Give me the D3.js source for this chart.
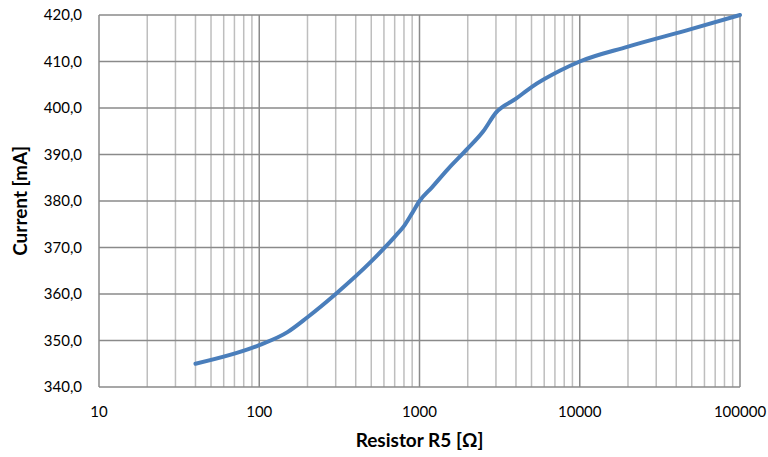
<!DOCTYPE html>
<html>
<head>
<meta charset="utf-8">
<script src="https://cdn.jsdelivr.net/npm/d3@7"></script>
<style>
  body { margin: 0; background: #fff; }
  text { font-family: Lato, "Open Sans", sans-serif; fill: #000; }
</style>
</head>
<body>
<div id="chart"></div>
<script>
// Resistor values [Ohm] and measured current [mA]
const resistance = [40, 100, 150, 200, 300, 500, 600, 700, 800, 900, 1000, 1200, 1500, 2000, 2500, 3000, 4000, 5000, 7500, 10000, 20000, 50000, 100000];
const current = [345, 349, 351.8, 355, 360, 367, 369.8, 372.3, 374.6, 377.4, 380, 383, 386.8, 391.3, 395, 399, 402, 404.5, 408, 410, 413.2, 417, 420];
const xTicks = [10, 100, 1000, 10000, 100000];
const yTicks = [340, 350, 360, 370, 380, 390, 400, 410, 420];

const width = 768, height = 457;
const margin = { top: 15, right: 28, bottom: 70, left: 99 };

const svg = d3.select("#chart").append("svg")
    .attr("width", width)
    .attr("height", height);

const x = d3.scaleLog().domain([10, 100000]).range([margin.left, width - margin.right]);
const y = d3.scaleLinear().domain([340, 420]).range([height - margin.bottom, margin.top]);

// minor vertical grid (2..9 in each decade)
const minor = [];
for (let d = 10; d < 100000; d *= 10) {
    for (let k = 2; k <= 9; k++) minor.push(d * k);
}
svg.append("g").selectAll("line")
    .data(minor)
    .join("line")
    .attr("x1", d => x(d)).attr("x2", d => x(d))
    .attr("y1", y(340)).attr("y2", y(420))
    .attr("stroke", "#bebebe")
    .attr("stroke-width", 1.5);

// major grid
svg.append("g").selectAll("line")
    .data(xTicks)
    .join("line")
    .attr("x1", d => x(d)).attr("x2", d => x(d))
    .attr("y1", y(340)).attr("y2", y(420))
    .attr("stroke", "#8a8a8a")
    .attr("stroke-width", 1.5);

svg.append("g").selectAll("line")
    .data(yTicks)
    .join("line")
    .attr("x1", x(10)).attr("x2", x(100000))
    .attr("y1", d => y(d)).attr("y2", d => y(d))
    .attr("stroke", "#8a8a8a")
    .attr("stroke-width", 1.5);

// y tick labels
svg.append("g").selectAll("text")
    .data(yTicks)
    .join("text")
    .attr("x", x(10) - 17)
    .attr("y", d => y(d))
    .attr("dy", "0.35em")
    .attr("text-anchor", "end")
    .style("font-size", "15px")
    .text(d => d3.format(".1f")(d).replace(".", ","));

// x tick labels
svg.append("g").selectAll("text")
    .data(xTicks)
    .join("text")
    .attr("x", d => x(d))
    .attr("y", y(340) + 30)
    .attr("text-anchor", "middle")
    .style("font-size", "15px")
    .text(d => d);

// axis titles
svg.append("text")
    .attr("x", (x(10) + x(100000)) / 2)
    .attr("y", 447)
    .attr("text-anchor", "middle")
    .style("font-size", "19px")
    .style("font-weight", "bold")
    .text("Resistor R5 [Ω]");

svg.append("text")
    .attr("transform", `translate(27,${(y(340) + y(420)) / 2}) rotate(-90)`)
    .attr("text-anchor", "middle")
    .style("font-size", "19px")
    .style("font-weight", "bold")
    .text("Current [mA]");

// data line
const line = d3.line()
    .x((d, i) => x(resistance[i]))
    .y(d => y(d))
    .curve(d3.curveMonotoneX);

svg.append("path")
    .datum(current)
    .attr("d", line)
    .attr("fill", "none")
    .attr("stroke", "#4a7ebb")
    .attr("stroke-width", 4)
    .attr("stroke-linecap", "round");
</script>
</body>
</html>
